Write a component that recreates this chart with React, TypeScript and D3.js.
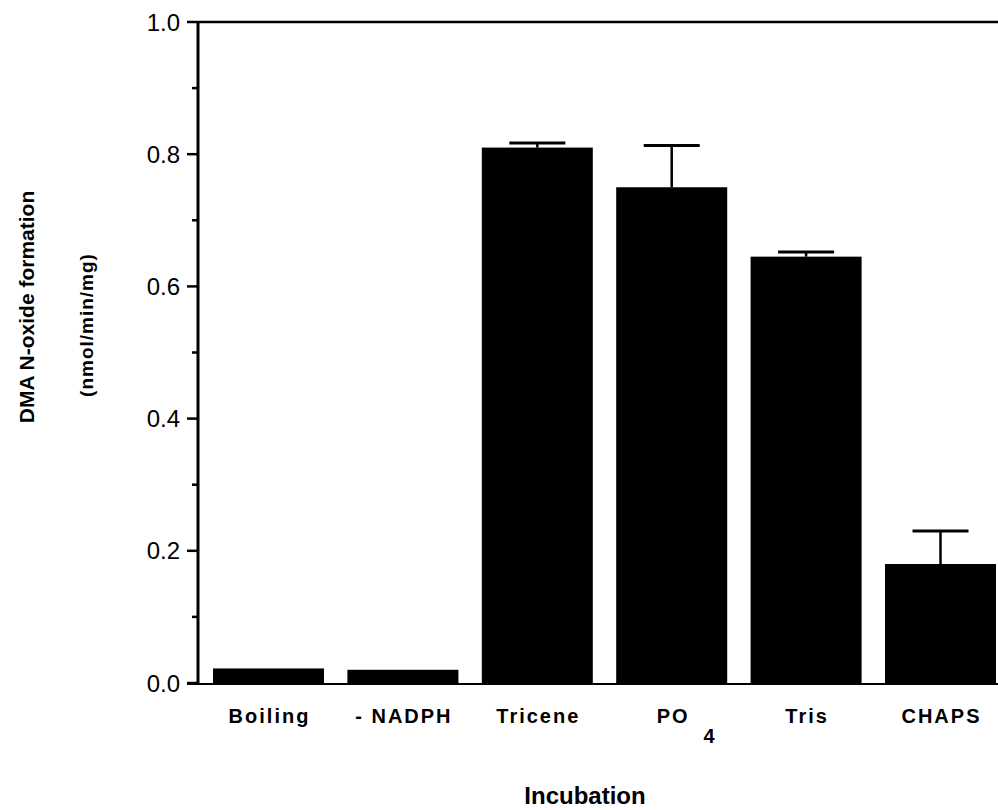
import React from "react";
import * as d3 from "d3";

const categories = ["Boiling", "- NADPH", "Tricene", "PO", "Tris", "CHAPS"];
const subscripts = ["", "", "", "4", "", ""];
const values = [0.022, 0.02, 0.81, 0.75, 0.645, 0.18];
const errors = [0, 0, 0.007, 0.063, 0.007, 0.05];
const majorTicks = [0, 0.2, 0.4, 0.6, 0.8, 1.0];
const minorTicks = [0.1, 0.3, 0.5, 0.7, 0.9];
const yTitle = "DMA N-oxide formation";
const yUnits = "(nmol/min/mg)";
const xTitle = "Incubation";

const W = 998;
const H = 810;
const axisX = 198;
const y = d3.scaleLinear().domain([0, 1]).range([683, 22]);
const x = d3
  .scaleBand<string>()
  .domain(categories)
  .range([201.3, 1007.7])
  .paddingInner(0.174)
  .paddingOuter(0.087);

export default function App() {
  const font = "'Liberation Sans', Arial, Helvetica, sans-serif";
  return (
    <svg
      width={W}
      height={H}
      style={{ position: "absolute", left: 0, top: 0, background: "#fff" }}
      fontFamily={font}
    >
      <rect x={0} y={0} width={W} height={H} fill="#fff" />
      {/* bars */}
      {categories.map((c, i) => {
        const bx = x(c)!;
        const bw = x.bandwidth();
        const cx = bx + bw / 2;
        return (
          <g key={c}>
            <rect x={bx} y={y(values[i])} width={bw} height={y(0) - y(values[i])} fill="#000" />
            {errors[i] > 0 && (
              <g stroke="#000">
                <line x1={cx} x2={cx} y1={y(values[i])} y2={y(values[i] + errors[i])} strokeWidth={2.5} />
                <line x1={cx - 28} x2={cx + 28} y1={y(values[i] + errors[i])} y2={y(values[i] + errors[i])} strokeWidth={3} />
              </g>
            )}
          </g>
        );
      })}
      {/* axes */}
      <line x1={axisX} x2={W} y1={y(1)} y2={y(1)} stroke="#000" strokeWidth={2.5} />
      <line x1={axisX} x2={axisX} y1={y(1) - 1} y2={y(0) + 1} stroke="#000" strokeWidth={3} />
      <line x1={187} x2={W} y1={y(0) + 1} y2={y(0) + 1} stroke="#000" strokeWidth={2} />
      {majorTicks.map((t) => (
        <g key={t}>
          <line x1={187} x2={axisX} y1={y(t)} y2={y(t)} stroke="#000" strokeWidth={2.5} />
          <text x={180} y={y(t) + 8.5} textAnchor="end" fontSize={24} fill="#000">
            {t.toFixed(1)}
          </text>
        </g>
      ))}
      {minorTicks.map((t) => (
        <line key={t} x1={192} x2={axisX} y1={y(t)} y2={y(t)} stroke="#000" strokeWidth={2.5} />
      ))}
      {/* category labels */}
      {categories.map((c, i) => {
        const cx = x(c)! + x.bandwidth() / 2;
        if (subscripts[i]) {
          return (
            <text key={c} x={cx - 15} y={723} fontSize={20} fontWeight="bold" letterSpacing={2} fill="#000">
              {c}
              <tspan dx={14} dy={20}>{subscripts[i]}</tspan>
            </text>
          );
        }
        return (
          <text key={c} x={cx + 1} y={723} textAnchor="middle" fontSize={20} fontWeight="bold" letterSpacing={2} fill="#000">
            {c}
          </text>
        );
      })}
      {/* titles */}
      <text transform="translate(34,307) rotate(-90)" textAnchor="middle" fontSize={21} fontWeight="bold" fill="#000">
        {yTitle}
      </text>
      <text transform="translate(93,325) rotate(-90)" textAnchor="middle" fontSize={19} fontWeight="bold" letterSpacing={1} fill="#000">
        {yUnits}
      </text>
      <text x={585} y={804} textAnchor="middle" fontSize={24} fontWeight="bold" fill="#000">
        {xTitle}
      </text>
    </svg>
  );
}
